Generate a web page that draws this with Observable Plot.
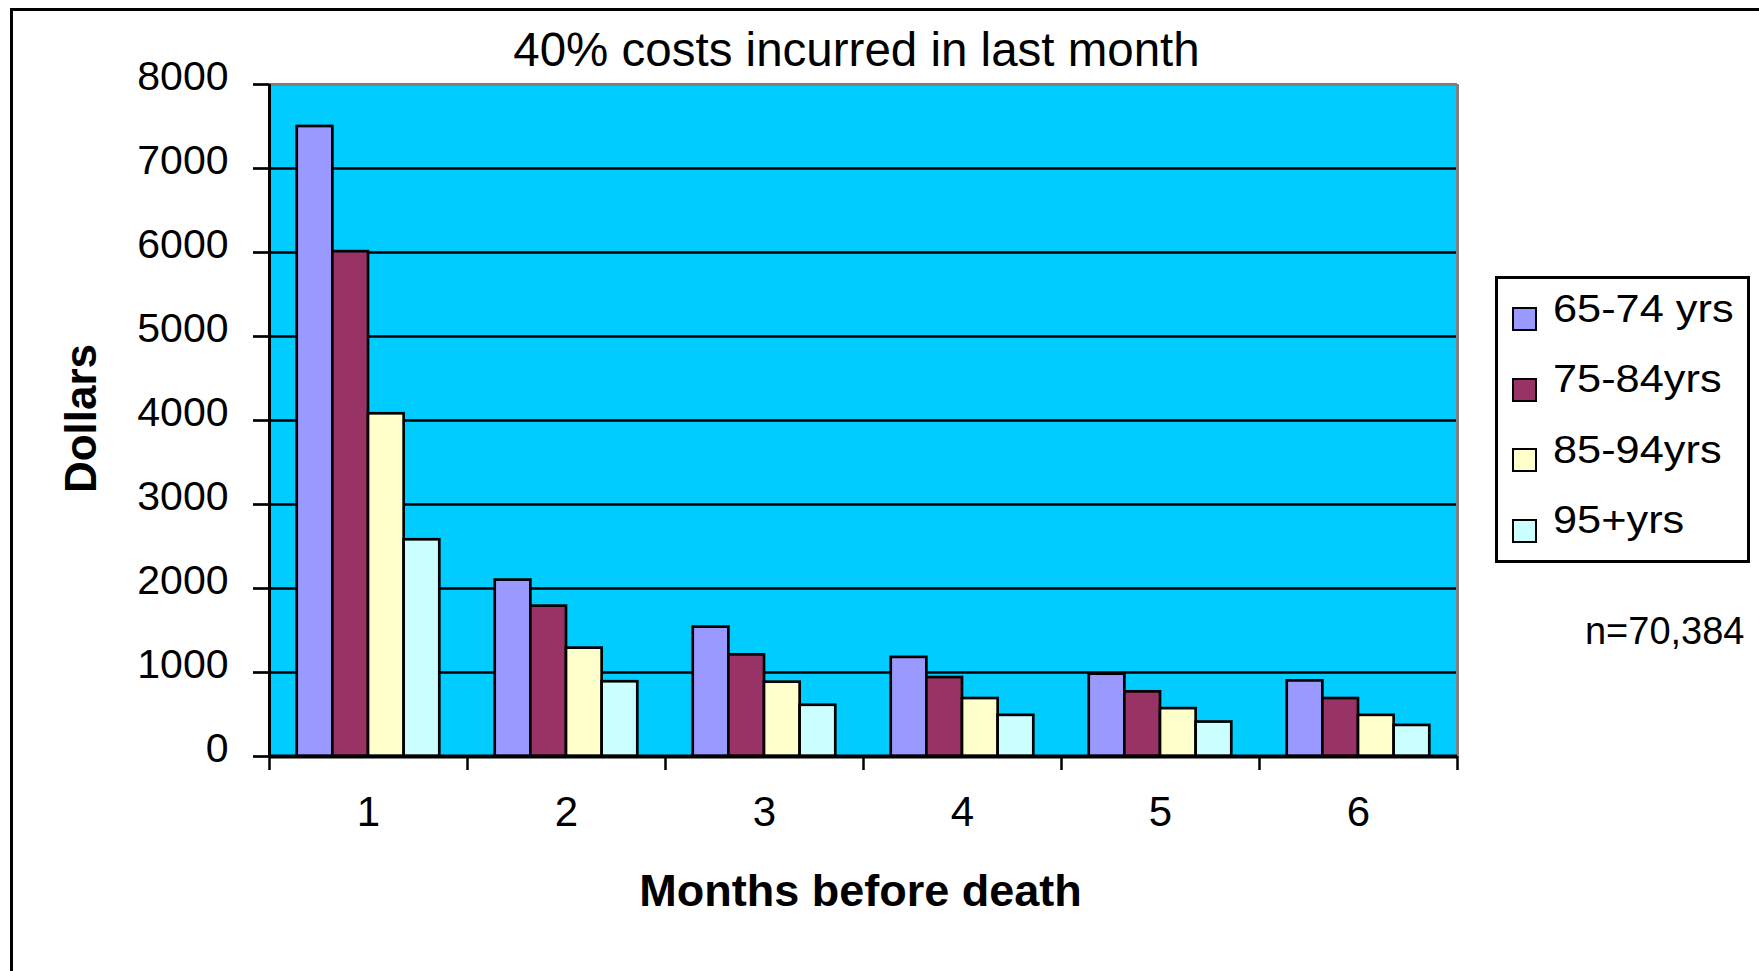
<!DOCTYPE html>
<html>
<head>
<meta charset="utf-8">
<script src="https://cdn.jsdelivr.net/npm/d3@7"></script>
<script src="https://cdn.jsdelivr.net/npm/@observablehq/plot@0.6"></script>
<style>
  html, body { margin: 0; padding: 0; background: #ffffff; }
  #wrap { position: relative; width: 1759px; height: 971px; overflow: hidden; background: #ffffff;
          font-family: "Liberation Sans", Arial, sans-serif; }
  #border { position: absolute; left: 10px; top: 8px; width: 1800px; height: 1000px;
            border-left: 3px solid #000; border-top: 3px solid #000; box-sizing: border-box; }
  #chart { position: absolute; left: 0; top: 0; }
  #legend { position: absolute; left: 1495px; top: 276px; width: 255px; height: 287px;
            border: 3px solid #000; box-sizing: border-box; background: #fff; }
  .sw { position: absolute; left: 14px; width: 25px; height: 24px; border: 2.5px solid #000; box-sizing: border-box; }
  .lb { position: absolute; left: 55px; font-size: 38px; line-height: 38px; color: #000; white-space: nowrap;
        transform: scaleX(1.14); transform-origin: left center; }
</style>
</head>
<body>
<div id="wrap">
  <div id="border"></div>
  <div id="chart"></div>
  <div id="legend"></div>
</div>
<script>
// ---- data ----
const months = [1, 2, 3, 4, 5, 6];
const ageGroups = ["65-74 yrs", "75-84yrs", "85-94yrs", "95+yrs"];
const cost65to74 = [7500, 2100, 1540, 1180, 980, 900];
const cost75to84 = [6010, 1790, 1210, 940, 770, 690];
const cost85to94 = [4080, 1290, 885, 690, 570, 490];
const cost95plus = [2580, 890, 610, 490, 410, 370];
const groupColors = ["#9999FF", "#993366", "#FFFFCC", "#CCFFFF"];
const yTicks = [0, 1000, 2000, 3000, 4000, 5000, 6000, 7000, 8000];
const titleText = "40% costs incurred in last month";
const xLabel = "Months before death";
const yLabel = "Dollars";
const noteText = "n=70,384";

// ---- table built from the arrays ----
const series = [cost65to74, cost75to84, cost85to94, cost95plus];
const rows = ageGroups.flatMap((g, gi) => months.map((m, mi) => ({month: m, group: g, gi, value: series[gi][mi]})));
const monthBounds = [months[0] - 0.5, ...months.map(m => m + 0.5)];
const gridValues = yTicks.filter(v => v > yTicks[0] && v < yTicks[yTicks.length - 1]);

// group layout within each month band (fractions of a band)
const groupPad = 0.14, barW = 0.18;

const chart = Plot.plot({
  width: 1759,
  height: 971,
  marginLeft: 269,
  marginRight: 302,
  marginTop: 84,
  marginBottom: 215,
  style: {fontFamily: "'Liberation Sans', Arial, sans-serif", background: "transparent", color: "#000", overflow: "visible"},
  x: {type: "linear", domain: [monthBounds[0], monthBounds[monthBounds.length - 1]]},
  y: {domain: [0, 8000]},
  color: {domain: ageGroups, range: groupColors},
  marks: [
    Plot.frame({fill: "#00CCFF", stroke: "none"}),
    Plot.ruleY(gridValues, {stroke: "#000", strokeWidth: 2.7}),
    Plot.rectY(rows, {
      x1: d => d.month - 0.5 + groupPad + d.gi * barW,
      x2: d => d.month - 0.5 + groupPad + (d.gi + 1) * barW,
      y: "value",
      fill: "group",
      stroke: "#000",
      strokeWidth: 2.7
    }),
    Plot.ruleY([yTicks[yTicks.length - 1]], {stroke: "#808080", strokeWidth: 3}),
    Plot.ruleX([monthBounds[monthBounds.length - 1]], {stroke: "#808080", strokeWidth: 3}),
    Plot.ruleX([monthBounds[0]], {stroke: "#000", strokeWidth: 3}),
    Plot.ruleY([0], {stroke: "#000", strokeWidth: 4}),
    // y axis: tick marks, then labels
    Plot.axisY({ticks: yTicks, tickSize: 16, tickFormat: () => "", strokeWidth: 2.7, label: null}),
    Plot.axisY({ticks: yTicks, tickSize: 0, tickPadding: 41, dy: -8, fontSize: 41, label: null, tickFormat: d3.format("d")}),
    // x axis: boundary ticks, then centered labels
    Plot.axisX({ticks: monthBounds, tickSize: 14, tickFormat: () => "", strokeWidth: 2.5, label: null}),
    Plot.axisX({ticks: months, tickSize: 0, tickPadding: 40, fontSize: 42, label: null, tickFormat: d3.format("d")}),
    // texts
    Plot.text([titleText], {frameAnchor: "top", dx: -7, dy: -19, lineAnchor: "bottom", fontSize: 47.5}),
    Plot.text([xLabel], {frameAnchor: "bottom", dx: -3, dy: 149, lineAnchor: "bottom", fontSize: 45, fontWeight: "bold"}),
    Plot.text([yLabel], {frameAnchor: "left", textAnchor: "middle", dx: -188, dy: -2, rotate: -90, fontSize: 44, fontWeight: "bold"}),
    Plot.text([noteText], {frameAnchor: "top-right", textAnchor: "end", dx: 287, dy: 559, lineAnchor: "bottom", fontSize: 38})
  ]
});
document.getElementById("chart").appendChild(chart);

// ---- legend ----
const legend = document.getElementById("legend");
ageGroups.forEach((g, i) => {
  const sw = document.createElement("div");
  sw.className = "sw";
  sw.style.top = (28 + i * 70.5) + "px";
  sw.style.background = groupColors[i];
  legend.appendChild(sw);
  const lb = document.createElement("div");
  lb.className = "lb";
  lb.style.top = (10.5 + i * 70.5) + "px";
  lb.textContent = g;
  legend.appendChild(lb);
});
</script>
</body>
</html>
